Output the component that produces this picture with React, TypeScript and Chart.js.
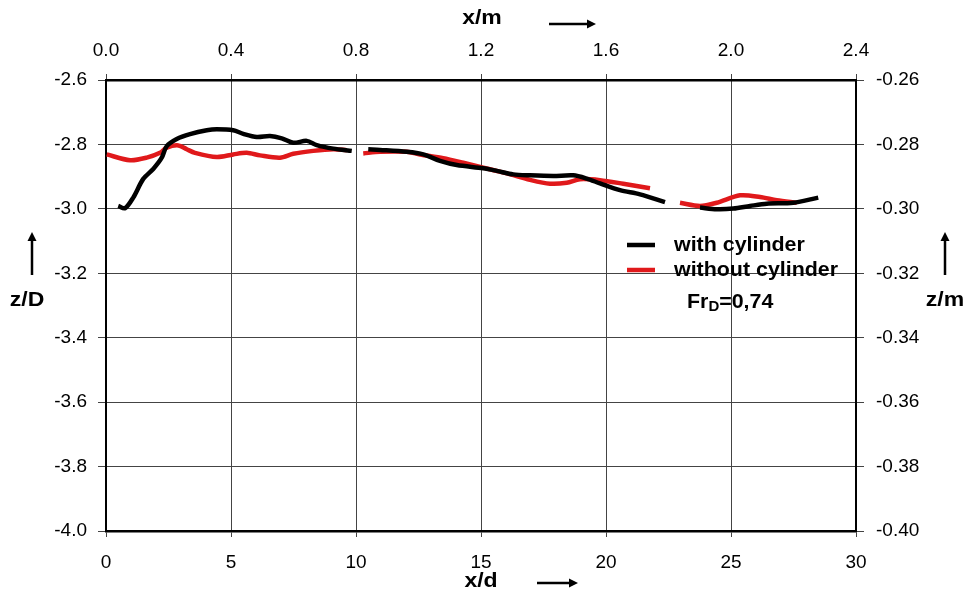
import React, { useEffect, useRef } from "react";
import { Chart, registerables } from "chart.js";

Chart.register(...registerables);

// x/d positions and z/D values
const withX1 = [0.49, 0.76, 1.09, 1.49, 1.89, 2.23, 2.43, 2.83, 3.36, 4.03, 4.43, 5.09, 5.49, 6.03, 6.56, 7.03, 7.49, 8.03, 8.43, 9.09, 9.83];
const withZ1 = [-2.991, -2.998, -2.965, -2.907, -2.876, -2.841, -2.805, -2.783, -2.768, -2.756, -2.753, -2.756, -2.767, -2.777, -2.774, -2.781, -2.795, -2.789, -2.802, -2.813, -2.82];
const withX2 = [10.49, 10.96, 12.03, 12.69, 13.36, 14.03, 15.09, 15.63, 16.29, 16.96, 17.89, 18.69, 19.23, 19.76, 20.56, 21.36, 22.36];
const withZ2 = [-2.815, -2.817, -2.823, -2.831, -2.851, -2.864, -2.874, -2.882, -2.893, -2.896, -2.898, -2.896, -2.906, -2.921, -2.942, -2.955, -2.979];
const withX3 = [23.76, 24.43, 25.09, 25.76, 26.43, 27.49, 28.49];
const withZ3 = [-2.996, -3.001, -2.999, -2.991, -2.984, -2.981, -2.965];

const withoutX1 = [0.03, 0.96, 1.63, 2.16, 2.43, 2.89, 3.23, 3.56, 4.43, 5.09, 5.63, 6.16, 6.96, 7.49, 8.29, 9.09, 9.63];
const withoutZ1 = [-2.831, -2.849, -2.841, -2.826, -2.81, -2.803, -2.815, -2.826, -2.839, -2.831, -2.826, -2.834, -2.841, -2.829, -2.82, -2.815, -2.818];
const withoutX2 = [10.29, 10.96, 12.03, 12.56, 13.49, 14.29, 15.09, 16.03, 16.96, 17.76, 18.43, 18.96, 19.76, 20.69, 21.76];
const withoutZ2 = [-2.828, -2.823, -2.823, -2.831, -2.843, -2.857, -2.872, -2.89, -2.91, -2.922, -2.919, -2.908, -2.911, -2.922, -2.936];
const withoutX3 = [22.96, 23.76, 24.43, 25.36, 26.16, 26.83, 27.63];
const withoutZ3 = [-2.981, -2.991, -2.981, -2.958, -2.963, -2.973, -2.981];

const xdTicks = [0, 5, 10, 15, 20, 25, 30];
const xmTicks = [0.0, 0.4, 0.8, 1.2, 1.6, 2.0, 2.4];
const zDTicks = [-2.6, -2.8, -3.0, -3.2, -3.4, -3.6, -3.8, -4.0];
const zmTicks = [-0.26, -0.28, -0.3, -0.32, -0.34, -0.36, -0.38, -0.4];

const seriesNames = ["with cylinder", "without cylinder"];
const seriesColors = ["#000000", "#e0191b"];
const froudeLabel = ["Fr", "D", "=0,74"];
const axisTitles = { top: "x/m", bottom: "x/d", left: "z/D", right: "z/m" };

function segs(xs: number[][], ys: number[][]) {
  const out: { x: number; y: number | null }[] = [];
  xs.forEach((arr, i) => {
    if (i > 0) out.push({ x: (xs[i - 1][xs[i - 1].length - 1] + arr[0]) / 2, y: null });
    arr.forEach((x, j) => out.push({ x, y: ys[i][j] }));
  });
  return out;
}

const FONT = "'Liberation Sans', Arial, sans-serif";

const overlay = {
  id: "overlay",
  afterDraw(chart: any) {
    const ctx = chart.ctx;
    ctx.save();
    ctx.fillStyle = "#000";
    ctx.strokeStyle = "#000";
    ctx.textBaseline = "middle";
    const text = (t: string, x: number, y: number, size: number, sx: number, align: string) => {
      ctx.save();
      ctx.font = `bold ${size}px ${FONT}`;
      ctx.textAlign = align;
      ctx.translate(x, y);
      ctx.scale(sx, 1);
      ctx.fillText(t, 0, 0);
      const w = ctx.measureText(t).width * sx;
      ctx.restore();
      return w;
    };
    // axis titles
    text(axisTitles.top, 482, 18, 20, 1.15, "center");
    text(axisTitles.bottom, 481, 581, 20, 1.15, "center");
    text(axisTitles.left, 27, 300, 20, 1.15, "center");
    text(axisTitles.right, 945, 300, 20, 1.15, "center");
    // arrows
    const arrowH = (x1: number, x2: number, y: number) => {
      ctx.lineWidth = 2.5;
      ctx.beginPath();
      ctx.moveTo(x1, y);
      ctx.lineTo(x2 - 6, y);
      ctx.stroke();
      ctx.beginPath();
      ctx.moveTo(x2, y);
      ctx.lineTo(x2 - 9, y - 4.5);
      ctx.lineTo(x2 - 9, y + 4.5);
      ctx.closePath();
      ctx.fill();
    };
    const arrowV = (x: number, y1: number, y2: number) => {
      ctx.lineWidth = 2.5;
      ctx.beginPath();
      ctx.moveTo(x, y1);
      ctx.lineTo(x, y2 + 6);
      ctx.stroke();
      ctx.beginPath();
      ctx.moveTo(x, y2);
      ctx.lineTo(x - 4.5, y2 + 9);
      ctx.lineTo(x + 4.5, y2 + 9);
      ctx.closePath();
      ctx.fill();
    };
    arrowH(549, 596, 24);
    arrowH(537, 578, 583);
    arrowV(32, 275, 232);
    arrowV(945, 275, 232);
    // legend
    const rows = [245, 270];
    seriesNames.forEach((n, i) => {
      ctx.strokeStyle = seriesColors[i];
      ctx.lineWidth = 4.5;
      ctx.beginPath();
      ctx.moveTo(627, rows[i]);
      ctx.lineTo(655, rows[i]);
      ctx.stroke();
      ctx.fillStyle = "#000";
      text(n, 674, rows[i], 20, 1.07, "left");
    });
    // Froude number
    let x = 687;
    x += text(froudeLabel[0], x, 302, 20, 1.07, "left");
    x += text(froudeLabel[1], x, 307, 14, 1.07, "left");
    text(froudeLabel[2], x, 302, 20, 1.07, "left");
    ctx.restore();
  },
};

export default function App() {
  const ref = useRef<HTMLCanvasElement | null>(null);
  useEffect(() => {
    if (!ref.current) return;
    const tickFont = { family: FONT, size: 19 };
    const chart = new Chart(ref.current, {
      type: "line",
      data: {
        datasets: [
          {
            label: seriesNames[0],
            data: segs([withX1, withX2, withX3], [withZ1, withZ2, withZ3]),
            borderColor: seriesColors[0],
            borderWidth: 4.5,
            pointRadius: 0,
            spanGaps: false,
            tension: 0.3,
            xAxisID: "x",
            yAxisID: "y",
          },
          {
            label: seriesNames[1],
            data: segs([withoutX1, withoutX2, withoutX3], [withoutZ1, withoutZ2, withoutZ3]),
            borderColor: seriesColors[1],
            borderWidth: 4.5,
            pointRadius: 0,
            spanGaps: false,
            tension: 0.3,
            xAxisID: "x",
            yAxisID: "y",
          },
        ],
      },
      options: {
        animation: false,
        responsive: false,
        events: [],
        layout: { padding: 0 },
        plugins: { legend: { display: false }, tooltip: { enabled: false } },
        scales: {
          x: {
            type: "linear",
            position: "bottom",
            min: 0,
            max: 30,
            afterBuildTicks: (s: any) => { s.ticks = xdTicks.map((v) => ({ value: v })); },
            afterFit: (s: any) => { s.height = 60; },
            ticks: { font: tickFont, color: "#000", padding: 14, maxRotation: 0, callback: (v: any) => String(v) },
            grid: { color: "#444", lineWidth: 1, tickLength: 6 },
            border: { color: "#000", width: 2.5 },
          },
          x2: {
            type: "linear",
            position: "top",
            min: 0,
            max: 2.4,
            afterBuildTicks: (s: any) => { s.ticks = xmTicks.map((v) => ({ value: v })); },
            afterFit: (s: any) => { s.height = 80; },
            ticks: { font: tickFont, color: "#000", padding: 12, maxRotation: 0, callback: (v: any) => Number(v).toFixed(1) },
            grid: { drawOnChartArea: false, color: "#444", tickLength: 6 },
            border: { color: "#000", width: 2.5 },
          },
          y: {
            type: "linear",
            position: "left",
            min: -4.0,
            max: -2.6,
            afterBuildTicks: (s: any) => { s.ticks = zDTicks.map((v) => ({ value: v })); },
            afterFit: (s: any) => { s.width = 106; },
            ticks: { font: tickFont, color: "#000", padding: 11, callback: (v: any) => Number(v).toFixed(1) },
            grid: { color: "#444", lineWidth: 1, tickLength: 8 },
            border: { color: "#000", width: 2 },
          },
          y2: {
            type: "linear",
            position: "right",
            min: -0.4,
            max: -0.26,
            afterBuildTicks: (s: any) => { s.ticks = zmTicks.map((v) => ({ value: v })); },
            afterFit: (s: any) => { s.width = 114; },
            ticks: { font: tickFont, color: "#000", padding: 12, callback: (v: any) => Number(v).toFixed(2) },
            grid: { drawOnChartArea: false, color: "#444", tickLength: 8 },
            border: { color: "#000", width: 2 },
          },
        },
      },
      plugins: [overlay],
    } as any);
    return () => chart.destroy();
  }, []);
  return (
    <div style={{ position: "absolute", left: 0, top: 0, width: 970, height: 591, background: "#fff" }}>
      <canvas ref={ref} width={970} height={591} style={{ display: "block" }} />
    </div>
  );
}
